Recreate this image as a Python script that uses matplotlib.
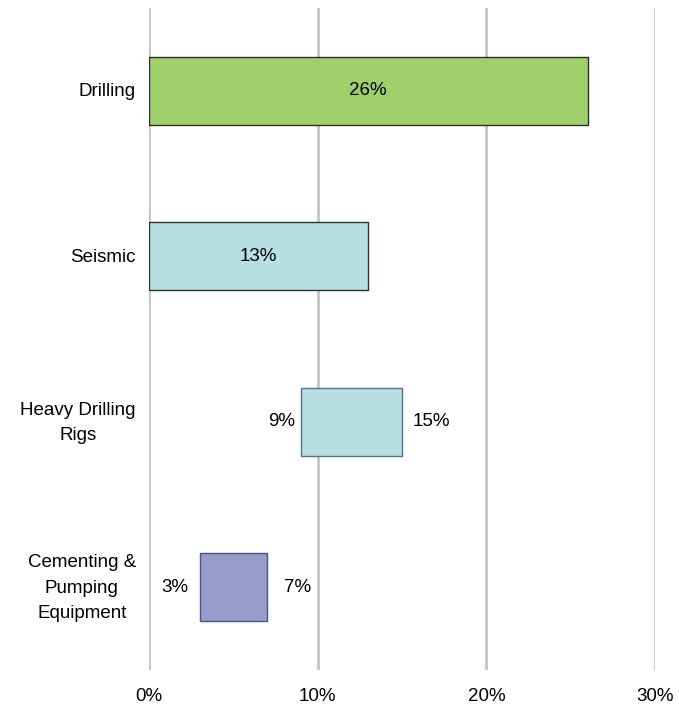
import matplotlib.pyplot as plt
import matplotlib.transforms as mtransforms

plt.rcParams['font.family'] = ['Liberation Sans', 'DejaVu Sans']

categories = ["Drilling", "Seismic", "Heavy Drilling\nRigs", "Cementing &\nPumping\nEquipment"]
starts = [0, 0, 9, 3]
ends = [26, 13, 15, 7]
colors = ["#A0D06A", "#B8E0E3", "#B8E0E3", "#9B9BCB"]
edges = ["#2E2E2E", "#2E2E2E", "#4F7192", "#3C5A8A"]

# gap (pixels) between bar ends and the outside labels
left_gap = [0, 0, 6, 11]
right_gap = [0, 0, 11, 17]

fig = plt.figure(figsize=(6.79, 7.06), dpi=100)
ax = fig.add_axes([149 / 679, 36 / 706, 506 / 679, 662 / 706])

ypos = list(range(len(categories)))
widths = [e - s for s, e in zip(starts, ends)]
ax.barh(ypos, widths, left=starts, height=0.41, color=colors,
        edgecolor=edges, linewidth=1.0, zorder=3)

fs = 13.5
for y, s, e, lg, rg in zip(ypos, starts, ends, left_gap, right_gap):
    if s == 0:
        ax.text((s + e) / 2, y, f"{e}%", ha="center", va="center", fontsize=fs, zorder=4)
    else:
        ax.annotate(f"{s}%", (s, y), xytext=(-lg, 0), textcoords="offset pixels",
                    ha="right", va="center", fontsize=fs)
        ax.annotate(f"{e}%", (e, y), xytext=(rg, 0), textcoords="offset pixels",
                    ha="left", va="center", fontsize=fs)

ax.set_xlim(0, 30)
ax.set_ylim(3.5, -0.5)
ax.set_xticks([0, 10, 20, 30])
ax.set_xticklabels(["0%", "10%", "20%", "30%"], fontsize=fs)
ax.set_yticks([])
ax.tick_params(axis="x", length=0, pad=13)

# category names, drawn as text so the line spacing can be set
trans = mtransforms.blended_transform_factory(ax.transAxes, ax.transData)
for y, name in zip(ypos, categories):
    ax.annotate(name, (0, y), xycoords=trans, xytext=(-13, -1), textcoords="offset pixels",
                ha="right", va="center", multialignment="center",
                linespacing=1.65, fontsize=fs)

ax.grid(axis="x", color="#C4C4C4", linewidth=2.0, zorder=0)
for sp in ax.spines.values():
    sp.set_visible(False)

fig.savefig("out.png", dpi=100)
